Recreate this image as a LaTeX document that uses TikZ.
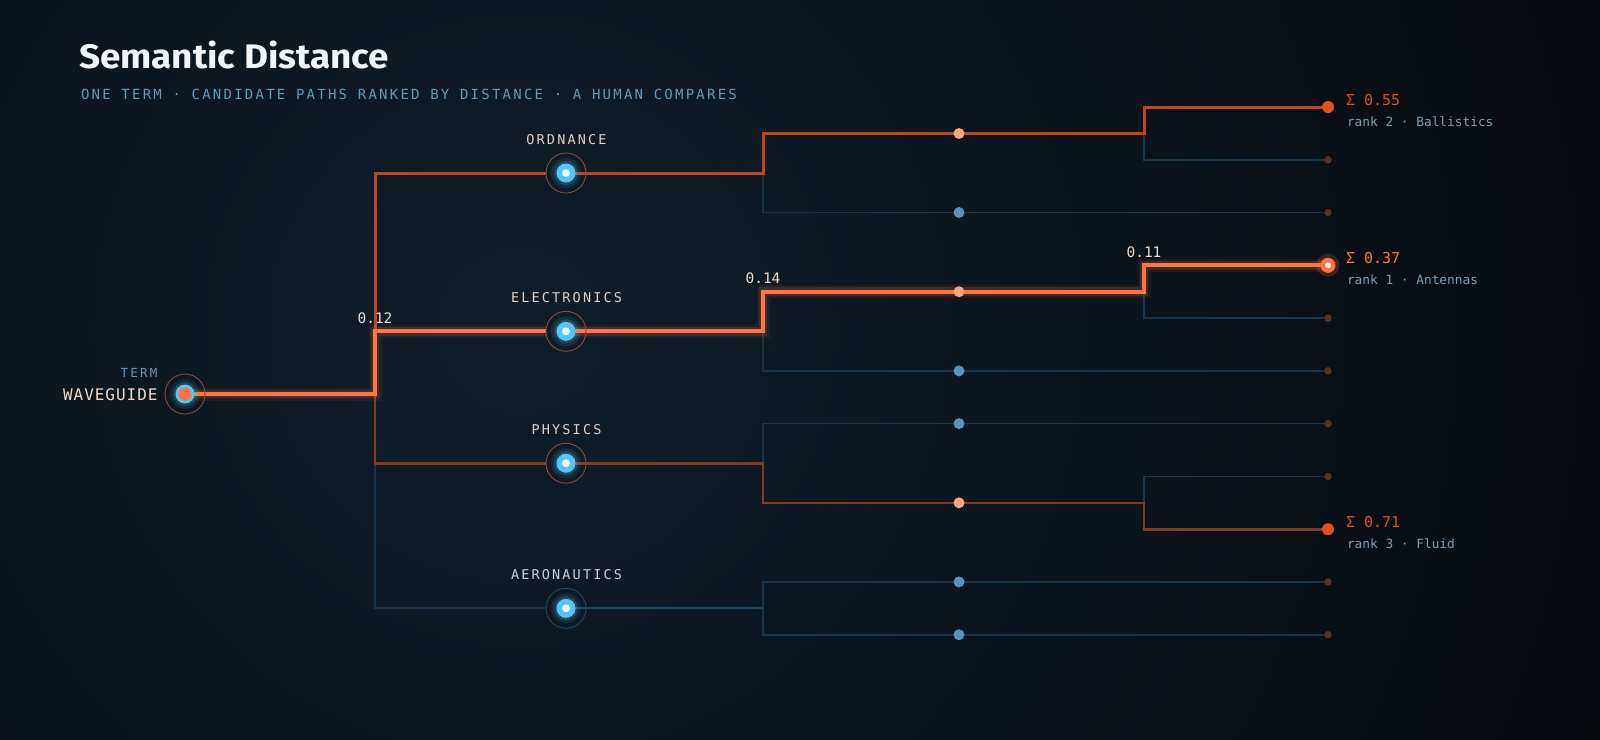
\documentclass[tikz,border=0pt]{standalone}
\usepackage{fontspec}
\setmainfont{DejaVu Sans}
\newfontfamily\titlefont{Fira Sans}
\newfontfamily\monoplain{DejaVu Sans Mono}
\newfontfamily\monosub{DejaVu Sans Mono}[LetterSpace=16]
\newfontfamily\monolab{DejaVu Sans Mono}[LetterSpace=16]
\newfontfamily\monowg{DejaVu Sans Mono}[LetterSpace=6]
\newfontfamily\monoterm{DejaVu Sans Mono}[LetterSpace=18]
\pgfdeclarelayer{bg}
\pgfdeclarelayer{lines}
\pgfsetlayers{bg,lines,main}
\definecolor{bgin}{HTML}{101E2A}
\definecolor{bgout}{HTML}{06080B}
\definecolor{titlec}{HTML}{F4F5F7}
\definecolor{subc}{HTML}{6399B8}
\definecolor{peach}{HTML}{F2D9C8}
\definecolor{peachl}{HTML}{E8CDBD}
\definecolor{aerlab}{HTML}{C5D2DB}
\definecolor{hot}{HTML}{FF7440}
\definecolor{rktwo}{HTML}{BE461F}
\definecolor{rkthree}{HTML}{823A25}
\definecolor{dimb}{HTML}{16344C}
\definecolor{aerb}{HTML}{1A4A66}
\definecolor{nodeb}{HTML}{55C6F3}
\definecolor{nodecore}{HTML}{EAF8FF}
\definecolor{ringo}{HTML}{8C4A33}
\definecolor{ringb}{HTML}{1C4862}
\definecolor{ltwoo}{HTML}{F6A680}
\definecolor{ltwob}{HTML}{5A93B8}
\definecolor{leafd}{HTML}{5A3222}
\definecolor{leafo}{HTML}{E0521E}
\definecolor{sigc}{HTML}{D9501F}
\definecolor{rankc}{HTML}{7F9DB2}
\definecolor{wlabc}{HTML}{F2DCCB}
\newcommand\lonedeco[1]{%
  \fill[nodeb,opacity=.10] (#1.center) circle (15pt);
  \fill[nodeb,opacity=.18] (#1.center) circle (12pt);
  \fill[nodeb] (#1.center) circle (9.5pt);
  \fill[nodecore] (#1.center) circle (4pt);}
\begin{document}
\begin{tikzpicture}[x=1pt,y=-1pt,
  every node/.style={inner sep=0pt, outer sep=0pt},
  ringnode/.style={circle, minimum size=40pt, draw=#1, line width=0.9pt},
  ltwo/.style={circle, minimum size=11pt, fill=#1},
  leafdim/.style={circle, minimum size=7.5pt, fill=leafd},
  leafrank/.style={circle, minimum size=12pt, fill=leafo},
  lonelab/.style={anchor=base, font=\monolab\fontsize{13.5}{15}\selectfont},
  wlab/.style={anchor=base, text=wlabc, font=\monoplain\fontsize{14.5}{16}\selectfont},
  siglab/.style={anchor=base west, font=\monoplain\fontsize{15}{17}\selectfont},
  ranklab/.style={anchor=base west, text=rankc, font=\monoplain\fontsize{12.8}{15}\selectfont},
  bl/.style={draw=dimb, line width=1.7pt},
  bltwo/.style={draw=aerb, line width=1.9pt},
  rthree/.style={draw=rkthree, line width=2.6pt},
  rtwo/.style={draw=rktwo, line width=3pt},
  rone/.style={draw=hot, line width=4pt,
    preaction={draw=hot, line width=13pt, opacity=0.08},
    preaction={draw=hot, line width=8.5pt, opacity=0.16}}]
\useasboundingbox (0,0) rectangle (1600,739);
\begin{pgfonlayer}{bg}
  \fill[bgout] (0,0) rectangle (1600,739);
  \begin{scope}
    \clip (0,0) rectangle (1600,739);
    \shade[inner color=bgin, outer color=bgout] (520,330) circle (1250pt);
  \end{scope}
\end{pgfonlayer}

% titles
\node[anchor=base west, text=titlec, font={\titlefont\bfseries\fontsize{34}{37}\selectfont}] (title) at (79,68.3) {\scalebox{1.085}[1]{Semantic Distance}};
\node[anchor=base west, text=subc, font={\monosub\fontsize{14}{16}\selectfont}] (sub) at (81,99) {ONE TERM · CANDIDATE PATHS RANKED BY DISTANCE · A HUMAN COMPARES};

% root
\node[ringnode=ringo] (root) at (185,394) {};
\fill[nodeb,opacity=.10] (root.center) circle (15pt);
\fill[nodeb,opacity=.18] (root.center) circle (12pt);
\fill[nodeb] (root.center) circle (9.5pt);
\fill[hot] (root.center) circle (6.5pt);
\node[anchor=base east, text=subc, font={\monoterm\fontsize{12.5}{14}\selectfont}] (termlab) at (157.5,377.3) {TERM};
\node[anchor=base east, text=peach, font={\monowg\fontsize{16}{18}\selectfont}] (wglab) at (157.5,400) {WAVEGUIDE};

% level 1
\node[ringnode=ringo] (ord) at (566,173) {};
\node[ringnode=ringo] (ele) at (566,331.3) {};
\node[ringnode=ringo] (phy) at (566,463.2) {};
\node[ringnode=ringb] (aer) at (566,608.3) {};
\lonedeco{ord}\lonedeco{ele}\lonedeco{phy}\lonedeco{aer}
\node[lonelab, text=peachl] (ordlab) at (566.5,144.7) {ORDNANCE};
\node[lonelab, text=peachl] (elelab) at (566.5,302.5) {ELECTRONICS};
\node[lonelab, text=peachl] (phylab) at (566.5,434.4) {PHYSICS};
\node[lonelab, text=aerlab] (aerlab) at (566.5,579.5) {AERONAUTICS};

% level 2
\node[ltwo=ltwoo] (o1) at (959,133.5) {};
\node[ltwo=ltwob] (o2) at (959,212.5) {};
\node[ltwo=ltwoo] (e1) at (959,291.7) {};
\node[ltwo=ltwob] (e2) at (959,370.9) {};
\node[ltwo=ltwob] (p1) at (959,423.6) {};
\node[ltwo=ltwoo] (p2) at (959,502.8) {};
\node[ltwo=ltwob] (a1) at (959,581.9) {};
\node[ltwo=ltwob] (a2) at (959,634.7) {};

% leaves
\node[leafrank] (la) at (1328,107) {};
\node[leafdim] (lb) at (1328,159.8) {};
\node[leafdim] (lc) at (1328,212.5) {};
\fill[hot,opacity=.20] (1328,265.3) circle (11.5pt);
\node[circle, minimum size=15pt, fill=hot] (ld) at (1328,265.3) {};
\fill[white!88!hot] (ld.center) circle (3pt);
\node[leafdim] (le) at (1328,318.1) {};
\node[leafdim] (lf) at (1328,370.9) {};
\node[leafdim] (lg) at (1328,423.6) {};
\node[leafdim] (lh) at (1328,476.4) {};
\node[leafrank] (li) at (1328,529.2) {};
\node[leafdim] (lj) at (1328,581.9) {};
\node[leafdim] (lk) at (1328,634.7) {};

% junctions
\coordinate (kR) at (375,394);
\coordinate (kO) at (763,173);
\coordinate (kE) at (763,331.3);
\coordinate (kP) at (763,463.2);
\coordinate (kA) at (763,608.3);
\coordinate (mO) at (1144,133.5);
\coordinate (mE) at (1144,291.7);
\coordinate (mP) at (1144,502.8);

\begin{pgfonlayer}{lines}
  \draw[bl] (kO) |- (o2.center) -- (lc.center);
  \draw[bl] (kE) |- (e2.center) -- (lf.center);
  \draw[bl] (kP) |- (p1.center) -- (lg.center);
  \draw[bl] (mO) |- (lb.center);
  \draw[bl] (mE) |- (le.center);
  \draw[bl] (mP) |- (lh.center);
  \draw[bl] (kR |- phy.center) |- (aer);
  \draw[bl] (kA) |- (a1.center) -- (lj.center);
  \draw[bl] (kA) |- (a2.center) -- (lk.center);
  \draw[bltwo] (aer.center) -- (kA);
  \draw[rthree] (kR) |- (phy);
  \draw[rthree] (phy.center) -- (kP) |- (p2.center) -- (mP) |- (li.center);
  \draw[rtwo] (kR) |- (ord);
  \draw[rtwo] (ord.center) -- (kO) |- (o1.center) -- (mO) |- (la.center);
  \draw[rone] (root.center) -- (kR) |- (ele);
  \draw[rone] (ele.center) -- (kE) |- (e1.center) -- (mE) |- (ld.center);
\end{pgfonlayer}

% weights
\node[wlab] (w1) at (375,323.3) {0.12};
\node[wlab] (w2) at (763,283.5) {0.14};
\node[wlab] (w3) at (1144,257) {0.11};

% ranked labels
\node[siglab, text=sigc] (s2) at (1346,105) {Σ 0.55};
\node[ranklab] (r2) at (1347,126.5) {rank 2 · Ballistics};
\node[siglab, text=hot] (s1) at (1346,263) {Σ 0.37};
\node[ranklab] (r1) at (1347,284.5) {rank 1 · Antennas};
\node[siglab, text=sigc] (s3) at (1346,527) {Σ 0.71};
\node[ranklab] (r3) at (1347,548) {rank 3 · Fluid};
\end{tikzpicture}
\end{document}
